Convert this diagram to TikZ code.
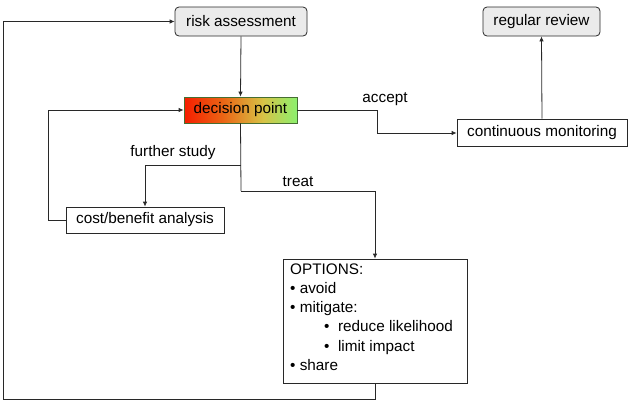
\documentclass[tikz,border=0pt]{standalone}
\usepackage{fontspec}
\setmainfont{Liberation Sans}
\usetikzlibrary{arrows.meta}
\definecolor{ln}{RGB}{40,40,40}
\definecolor{gbox}{RGB}{235,235,235}
\definecolor{dpred}{RGB}{245,30,0}
\definecolor{dporange}{RGB}{235,100,20}
\definecolor{dpyellow}{RGB}{215,195,70}
\definecolor{dpgreen}{RGB}{140,240,110}
\definecolor{dpborder}{RGB}{70,110,50}
\pgfdeclarehorizontalshading{dpshade}{100bp}{color(0bp)=(dpred); color(25bp)=(dpred); color(42bp)=(dporange); color(60bp)=(dpyellow); color(75bp)=(dpgreen); color(100bp)=(dpgreen)}
\tikzset{
  conn/.style={draw=ln, line width=0.8pt},
  arr/.style={conn, -{Latex[length=5pt,width=4.5pt]}},
  txt/.style={font=\fontsize{15.3}{18}\selectfont},
  grayrbox/.style={txt, draw=ln, line width=0.8pt, fill=gbox, rounded corners=4pt, inner sep=0pt},
  plainbox/.style={txt, draw=ln, line width=0.8pt, fill=white, inner sep=0pt},
  lbl/.style={txt, inner sep=0pt}
}
\begin{document}
\begin{tikzpicture}[x=1pt,y=-1pt]
\useasboundingbox (0,0) rectangle (638,410);
\node[grayrbox, minimum width=132pt, minimum height=29pt] (ra) at (241,21.5) {risk assessment};
\node[grayrbox, minimum width=117pt, minimum height=29pt] (rr) at (541.5,21.5) {regular review};
\node[txt, draw=dpborder, line width=0.8pt, inner sep=0pt, minimum width=113pt, minimum height=26pt,
  shading=dpshade] (dp) at (240.5,110) {decision point};
\node[plainbox, minimum width=170pt, minimum height=27pt] (cm) at (542,132.5) {continuous monitoring};
\node[plainbox, minimum width=158pt, minimum height=26pt] (cb) at (145,220) {cost/benefit analysis};
\node[plainbox, minimum width=184pt, minimum height=124pt] (op) at (375,321) {};
\node[lbl, anchor=north west, align=left, font=\fontsize{15.3}{19.2}\selectfont] (optxt) at (290,263.5) {OPTIONS:\\
\textbullet\ avoid\\
\textbullet\ mitigate:\\
\hspace{34pt}\textbullet\ \ reduce likelihood\\
\hspace{34pt}\textbullet\ \ limit impact\\
\textbullet\ share};

\coordinate (c1) at (375,399);
\coordinate (c2) at (3,399);
\coordinate (c3) at (3,21.5);
\coordinate (a1) at (377,110);
\coordinate (a2) at (377,133);
\coordinate (f1) at (241,165);
\coordinate (f2) at (145,165);
\coordinate (t1) at (241,191);
\coordinate (t2) at (375,191);
\coordinate (b1) at (48,220);
\coordinate (b2) at (48,110);

\draw[arr] (op.south -| c1) -- (c1) -- (c2) -- (c3) -- (ra.west);
\draw[arr] (ra.south) -- (dp.north);
\draw[arr] (dp.east) -- (a1) -- (a2) -- (cm.west |- a2);
\draw[arr] (cm.north) -- (rr.south);
\draw[conn] (dp.south) -- (t1);
\draw[arr] (f1) -- (f2) -- (cb.north -| f2);
\draw[arr] (t1) -- (t2) -- (op.north -| t2);
\draw[arr] (cb.west) -- (b1) -- (b2) -- (dp.west);

\node[lbl] (lacc) at (385,99) {accept};
\node[lbl] (lfs) at (173,153) {further study};
\node[lbl] (ltr) at (298,182) {treat};
\end{tikzpicture}
\end{document}
